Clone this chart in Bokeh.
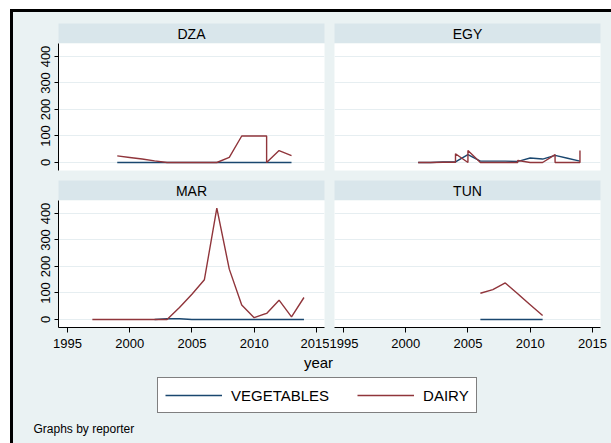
from bokeh.plotting import figure
from bokeh.layouts import column, row
from bokeh.models import Range1d, FixedTicker, LinearAxis, Grid, Label, Legend, LegendItem
from bokeh.embed import file_html
from bokeh.resources import INLINE

# ---------------- data ----------------
reporters = ["DZA", "EGY", "MAR", "TUN"]
series_names = ["VEGETABLES", "DAIRY"]

dza_veg_year = [1999, 2000, 2001, 2002, 2003, 2004, 2005, 2006, 2007, 2008, 2009, 2010, 2011, 2012, 2013]
dza_veg = [0, 0, 0, 0, 0, 0, 0, 0, 0, 0, 0, 0, 0, 0, 0]
dza_dairy_year = [1999, 2000, 2001, 2002, 2003, 2004, 2005, 2006, 2007, 2008, 2009, 2010, 2011, 2011, 2012, 2013]
dza_dairy = [25, 19, 13, 6, 0, 0, 0, 0, 0, 19, 100, 100, 100, 0, 45, 26]

egy_veg_year = [2001, 2002, 2003, 2004, 2005, 2006, 2007, 2008, 2009, 2010, 2011, 2012, 2013, 2014]
egy_veg = [0, 0, 2, 2, 30, 5, 5, 5, 4, 17, 13, 27, 16, 5]
egy_dairy_year = [2001, 2002, 2003, 2004, 2004, 2005, 2005, 2006, 2007, 2008, 2009, 2009, 2010, 2011, 2012, 2012, 2013, 2014, 2014]
egy_dairy = [0, 0, 1, 1, 33, 0, 45, 0, 0, 0, 0, 8, 0, 0, 30, 0, 0, 0, 45]

mar_veg_year = [2002, 2003, 2004, 2005, 2006, 2007, 2008, 2009, 2010, 2011, 2012, 2013, 2014]
mar_veg = [0, 3, 3, 0, 0, 0, 0, 0, 0, 0, 0, 0, 0]
mar_dairy_year = [1997, 1998, 1999, 2000, 2001, 2002, 2003, 2004, 2005, 2006, 2007, 2008, 2009, 2010, 2011, 2012, 2013, 2014]
mar_dairy = [0, 0, 0, 0, 0, 0, 0, 45, 95, 150, 420, 190, 55, 7, 23, 73, 10, 83]

tun_veg_year = [2006, 2007, 2008, 2009, 2010, 2011]
tun_veg = [0, 0, 0, 0, 0, 0]
tun_dairy_year = [2006, 2007, 2008, 2009, 2010, 2011]
tun_dairy = [99, 113, 138, 97, 56, 15]

x_ticks = [1995, 2000, 2005, 2010, 2015]
y_ticks = [0, 100, 200, 300, 400]
x_title = "year"
note_text = "Graphs by reporter"

# ---------------- style ----------------
BG = "#EAF2F3"
STRIP = "#D9E6EB"
GRID = "#E6EEF1"
VEG_C = "#1A476F"
DAIRY_C = "#90353B"
FONT = "Liberation Sans"
LW = 1.4

X_START, X_END = 1994.28, 2015.65
Y_START, Y_END = -30.2, 449.0

LEFT_W, RIGHT_W = 316, 282


def strip_fig(name, width, height, mbl, mbr, mbt):
    s = figure(width=width, height=height, x_range=Range1d(0, 1), y_range=Range1d(0, 1),
               x_axis_type=None, y_axis_type=None, output_backend="svg", toolbar_location=None,
               min_border_left=mbl, min_border_right=mbr, min_border_top=mbt, min_border_bottom=0,
               background_fill_color=STRIP, border_fill_color=BG, outline_line_color=None)
    s.add_layout(Label(x=0.5, y=0.5, text=name, text_align="center", text_baseline="middle",
                       text_font=FONT, text_font_size="14px", text_color="black"))
    return s


def panel_fig(width, height, mbl, mbr, mbb, show_y, show_x, vx, vy, dx, dy):
    p = figure(width=width, height=height, x_range=Range1d(X_START, X_END),
               y_range=Range1d(Y_START, Y_END),
               x_axis_type=None, y_axis_type=None, output_backend="svg", toolbar_location=None,
               min_border_left=mbl, min_border_right=mbr, min_border_top=0, min_border_bottom=mbb,
               background_fill_color="white", border_fill_color=BG, outline_line_color=None)
    p.add_layout(Grid(dimension=1, ticker=FixedTicker(ticks=y_ticks),
                      grid_line_color=GRID, grid_line_width=1))
    if show_y:
        ay = LinearAxis(ticker=FixedTicker(ticks=y_ticks), major_label_orientation="vertical",
                        major_tick_out=4, major_tick_in=0, minor_tick_out=0, minor_tick_in=0,
                        axis_line_color="black", major_tick_line_color="black",
                        major_label_text_font=FONT, major_label_text_font_size="13px",
                        major_label_text_color="black", major_label_standoff=4)
        p.add_layout(ay, "left")
    if show_x:
        ax = LinearAxis(ticker=FixedTicker(ticks=x_ticks),
                        major_tick_out=5, major_tick_in=0, minor_tick_out=0, minor_tick_in=0,
                        axis_line_color="black", major_tick_line_color="black",
                        major_label_text_font=FONT, major_label_text_font_size="13px",
                        major_label_text_color="black", major_label_standoff=6)
        p.add_layout(ax, "below")
    p.line(vx, vy, line_color=VEG_C, line_width=LW)
    p.line(dx, dy, line_color=DAIRY_C, line_width=LW)
    return p


s_dza = strip_fig(reporters[0], LEFT_W, 31, 45, 5, 11)
s_egy = strip_fig(reporters[1], RIGHT_W, 31, 5, 11, 11)
p_dza = panel_fig(LEFT_W, 132, 45, 5, 5, True, False, dza_veg_year, dza_veg, dza_dairy_year, dza_dairy)
p_egy = panel_fig(RIGHT_W, 132, 5, 11, 5, False, False, egy_veg_year, egy_veg, egy_dairy_year, egy_dairy)

s_mar = strip_fig(reporters[2], LEFT_W, 25, 45, 5, 5)
s_tun = strip_fig(reporters[3], RIGHT_W, 25, 5, 11, 5)
p_mar = panel_fig(LEFT_W, 155, 45, 5, 28, True, True, mar_veg_year, mar_veg, mar_dairy_year, mar_dairy)
p_tun = panel_fig(RIGHT_W, 155, 5, 11, 28, False, True, tun_veg_year, tun_veg, tun_dairy_year, tun_dairy)

# bottom area: axis title, legend, note
BW, BH = LEFT_W + RIGHT_W, 88
b = figure(width=BW, height=BH, x_range=Range1d(0, BW), y_range=Range1d(BH, 0),
           x_axis_type=None, y_axis_type=None, output_backend="svg", toolbar_location=None,
           min_border=0, min_border_left=0, min_border_right=0, min_border_top=0, min_border_bottom=0,
           background_fill_color=BG, border_fill_color=BG, outline_line_color=None)
b.add_layout(Label(x=305, y=7, text=x_title, text_align="center", text_baseline="middle",
                   text_font=FONT, text_font_size="15px", text_color="black"))
b.add_layout(Label(x=20, y=73, text=note_text, text_align="left", text_baseline="middle",
                   text_font=FONT, text_font_size="12px", text_color="black"))
# legend proxies: the series' own data lies outside this strip's range, so only the key shows
r_v = b.line(x=mar_veg_year, y=mar_veg, line_color=VEG_C, line_width=LW)
r_d = b.line(x=mar_dairy_year, y=mar_dairy, line_color=DAIRY_C, line_width=LW)
leg = Legend(items=[LegendItem(label=series_names[0], renderers=[r_v]),
                    LegendItem(label=series_names[1], renderers=[r_d])],
             location=(144, 30), orientation="horizontal",
             border_line_color="black", border_line_width=1,
             background_fill_color="white", background_fill_alpha=1.0,
             padding=7, spacing=28, margin=0, glyph_width=57, glyph_height=20,
             label_standoff=9, label_text_font=FONT, label_text_font_size="15px",
             label_text_color="black")
b.add_layout(leg)

layout = column(
    row(s_dza, s_egy), row(p_dza, p_egy),
    row(s_mar, s_tun), row(p_mar, p_tun),
    b,
    styles={"position": "fixed", "left": "10px", "top": "9px",
            "border-top": "3px solid black", "border-left": "3px solid black",
            "background-color": BG},
)

open("out.html", "w").write(file_html(layout, INLINE))
